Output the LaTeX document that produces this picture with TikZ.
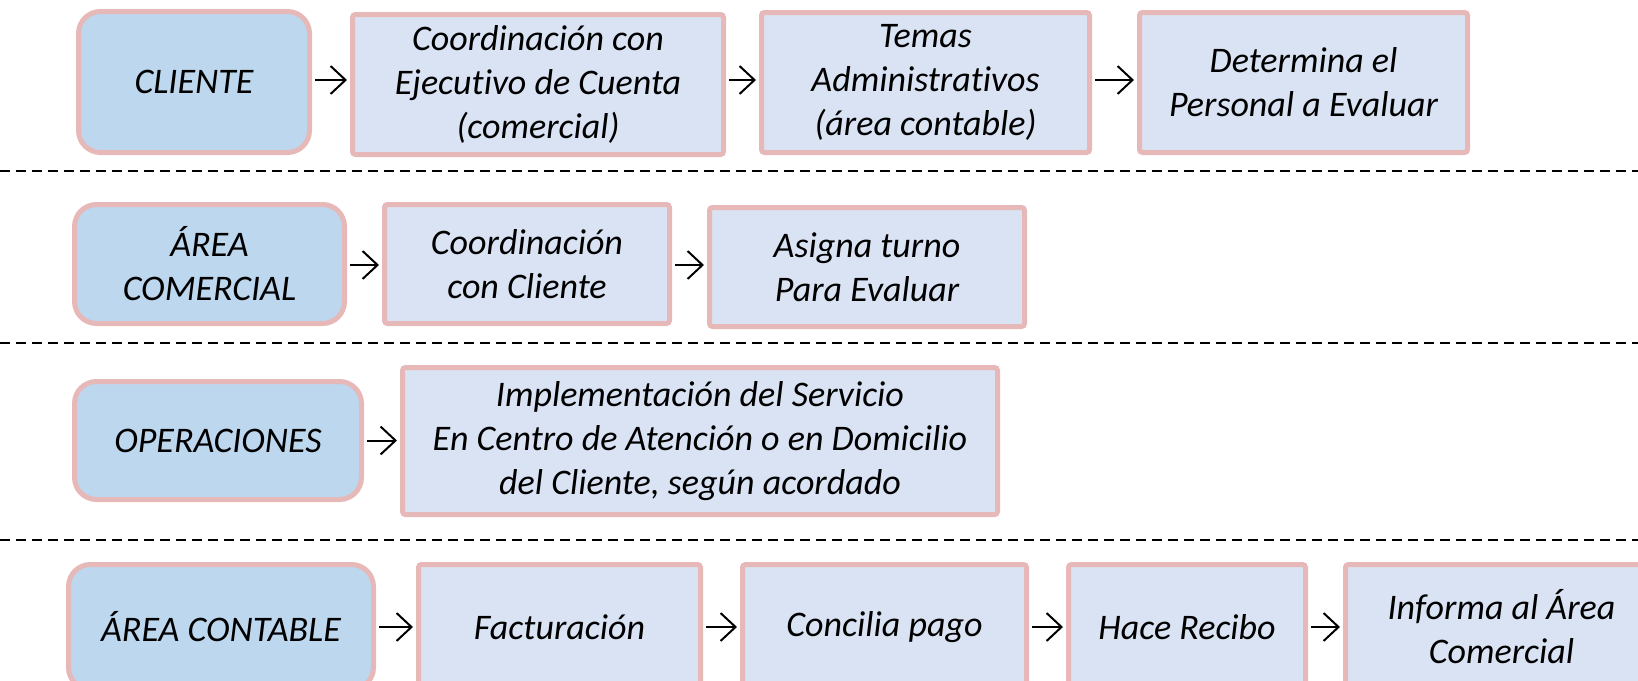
\documentclass[tikz,border=0pt]{standalone}
\usepackage{fontspec}
\setmainfont{Carlito}[Ligatures=NoCommon]
\usetikzlibrary{arrows.meta}
\definecolor{bordc}{HTML}{E6B9B8}
\definecolor{mainc}{HTML}{DAE3F3}
\definecolor{startc}{HTML}{BDD7EE}
\tikzset{
  boxnode/.style={draw=bordc, fill=mainc, line width=5pt, rounded corners=3pt,
    align=center, inner sep=0pt, font=\fontsize{36}{44}\selectfont\itshape},
  startnode/.style={boxnode, fill=startc, rounded corners=22pt},
  arr/.style={line width=2pt, -{Straight Barb[length=15pt,width=28pt]},
    shorten <=3pt, shorten >=3pt},
  sep/.style={line width=1.8pt, dash pattern=on 10pt off 6pt}
}
\begin{document}
\begin{tikzpicture}[x=1pt,y=-1pt]
\useasboundingbox (0,0) rectangle (1638,680);
\begin{scope}
\clip (0,0) rectangle (1638,680);
% Row 1
\node[startnode, minimum width=231, minimum height=141] (c1) at (194,82) {CLIENTE};
\node[boxnode, minimum width=371, minimum height=140] (b12) at (538,84.5) {Coordinación con\\Ejecutivo de Cuenta\\(comercial)};
\node[boxnode, minimum width=328, minimum height=140] (b13) at (925.5,82.5) {Temas\\Administrativos\\(área contable)};
\node[boxnode, minimum width=328, minimum height=140] (b14) at (1303.5,82.5) {Determina el\\Personal a Evaluar};
\coordinate (r1) at (0,80);
\draw[arr] (r1 -| c1.east) -- (r1 -| b12.west);
\draw[arr] (r1 -| b12.east) -- (r1 -| b13.west);
\draw[arr] (r1 -| b13.east) -- (r1 -| b14.west);
% Row 2
\node[startnode, minimum width=270, minimum height=119] (c2) at (209.5,264) {ÁREA\\COMERCIAL};
\node[boxnode, minimum width=285, minimum height=119] (b22) at (527,264) {Coordinación\\con Cliente};
\node[boxnode, minimum width=315, minimum height=119] (b23) at (867,267) {Asigna turno\\Para Evaluar};
\coordinate (r2) at (0,265);
\draw[arr] (r2 -| c2.east) -- (r2 -| b22.west);
\draw[arr] (r2 -| b22.east) -- (r2 -| b23.west);
% Row 3
\node[startnode, minimum width=287, minimum height=118] (c3) at (218,440.5) {OPERACIONES};
\node[boxnode, minimum width=595, minimum height=147] (b32) at (700,441) {Implementación del Servicio\\En Centro de Atención o en Domicilio\\del Cliente, según acordado};
\draw[arr] (c3.east) -- (c3.east -| b32.west);
% Row 4
\node[startnode, minimum width=305, minimum height=125] (c4) at (221,627) {ÁREA CONTABLE};
\node[boxnode, minimum width=282, minimum height=125] (b42) at (559.5,627) {Facturación};
\node[boxnode, minimum width=284, minimum height=125] (b43) at (884.5,627) {Concilia pago};
\node[boxnode, minimum width=237, minimum height=125] (b44) at (1187,627) {Hace Recibo};
\node[boxnode, minimum width=312, minimum height=125] (b45) at (1501.5,627) {Informa al Área\\Comercial};
\draw[arr] (c4.east) -- (b42.west);
\draw[arr] (b42.east) -- (b43.west);
\draw[arr] (b43.east) -- (b44.west);
\draw[arr] (b44.east) -- (b45.west);
% Separators
\coordinate (s1a) at (0,171); \coordinate (s1b) at (1638,171);
\coordinate (s2a) at (0,343); \coordinate (s2b) at (1638,343);
\coordinate (s3a) at (0,540); \coordinate (s3b) at (1638,540);
\draw[sep] (s1a) -- (s1b);
\draw[sep] (s2a) -- (s2b);
\draw[sep] (s3a) -- (s3b);
\end{scope}
\end{tikzpicture}
\end{document}
